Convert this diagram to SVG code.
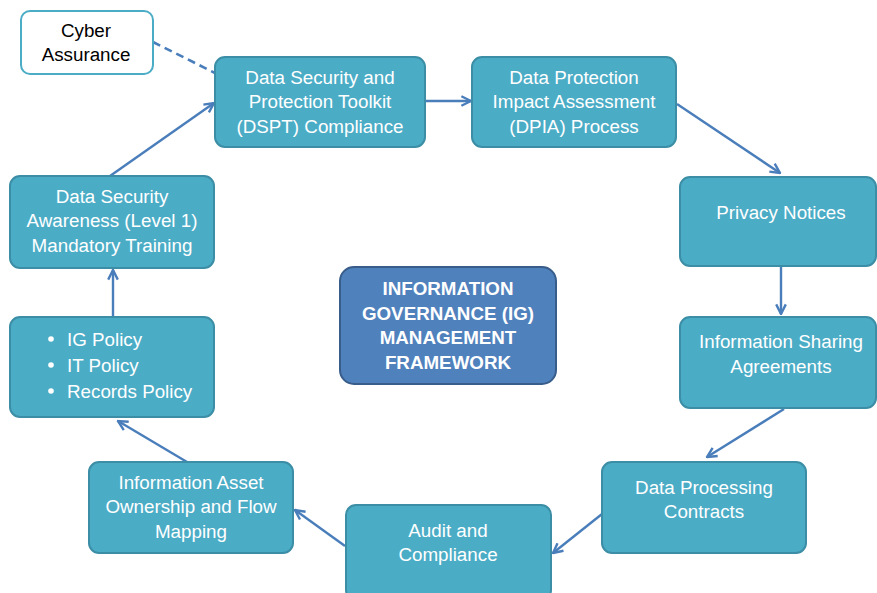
<svg xmlns="http://www.w3.org/2000/svg" width="877" height="593" viewBox="0 0 877 593">
  <style>
    .box { fill: #4bacc6; stroke: #3b8ea5; stroke-width: 2; }
    .cyber { fill: #ffffff; stroke: #4bacc6; stroke-width: 2; }
    .core { fill: #4f81bd; stroke: #385d8a; stroke-width: 2; }
    .t { font-family: "Liberation Sans", Arial, sans-serif; font-size: 18.8px; fill: #ffffff; text-anchor: middle; }
    .tb { font-family: "Liberation Sans", Arial, sans-serif; font-size: 18.8px; font-weight: bold; fill: #ffffff; text-anchor: middle; }
    .tk { font-family: "Liberation Sans", Arial, sans-serif; font-size: 18.8px; fill: #000000; text-anchor: middle; }
    .tl { font-family: "Liberation Sans", Arial, sans-serif; font-size: 18.8px; fill: #ffffff; }
    .link { stroke: #4a7ebb; stroke-width: 2.4; fill: none; marker-end: url(#arr); }
    .dash { stroke: #4a7ebb; stroke-width: 2.6; fill: none; stroke-dasharray: 8 5; }
  </style>
  <defs>
    <marker id="arr" viewBox="0 0 10 10" refX="9" refY="5" markerWidth="5" markerHeight="5" orient="auto">
      <path d="M1,1 L9,5 L1,9" fill="none" stroke="#4a7ebb" stroke-width="2"/>
    </marker>
  </defs>
  <rect width="877" height="593" fill="#ffffff"/>

  <g id="connectors">
    <line class="dash" x1="153" y1="42" x2="215" y2="73"/>
    <line class="link" x1="425" y1="101" x2="471" y2="101"/>
    <line class="link" x1="677" y1="104" x2="780" y2="173"/>
    <line class="link" x1="781" y1="267" x2="781" y2="314"/>
    <line class="link" x1="784" y1="409" x2="707" y2="457"/>
    <line class="link" x1="602" y1="514" x2="553" y2="553"/>
    <line class="link" x1="345" y1="546" x2="295" y2="510"/>
    <line class="link" x1="187" y1="462" x2="118" y2="421"/>
    <line class="link" x1="113" y1="317" x2="113" y2="270"/>
    <line class="link" x1="110" y1="176" x2="214" y2="103"/>
  </g>

  <g id="cyber-assurance">
    <rect class="cyber" x="21" y="11" width="132" height="63" rx="9"/>
    <text class="tk" x="86" y="37">Cyber</text>
    <text class="tk" x="86" y="61">Assurance</text>
  </g>

  <g id="dspt">
    <rect class="box" x="215" y="57" width="210" height="90" rx="10"/>
    <text class="t" x="320" y="84">Data Security and</text>
    <text class="t" x="320" y="108">Protection Toolkit</text>
    <text class="t" x="320" y="133">(DSPT) Compliance</text>
  </g>

  <g id="dpia">
    <rect class="box" x="472" y="57" width="204" height="90" rx="10"/>
    <text class="t" x="574" y="84">Data Protection</text>
    <text class="t" x="574" y="108">Impact Assessment</text>
    <text class="t" x="574" y="133">(DPIA) Process</text>
  </g>

  <g id="privacy-notices">
    <rect class="box" x="680" y="177" width="196" height="89" rx="10"/>
    <text class="t" x="781" y="219">Privacy Notices</text>
  </g>

  <g id="info-sharing">
    <rect class="box" x="680" y="317" width="196" height="91" rx="10"/>
    <text class="t" x="781" y="348">Information Sharing</text>
    <text class="t" x="781" y="373">Agreements</text>
  </g>

  <g id="data-processing">
    <rect class="box" x="602" y="462" width="204" height="91" rx="10"/>
    <text class="t" x="704" y="494">Data Processing</text>
    <text class="t" x="704" y="518">Contracts</text>
  </g>

  <g id="audit">
    <rect class="box" x="346" y="505" width="205" height="95" rx="10"/>
    <text class="t" x="448" y="537">Audit and</text>
    <text class="t" x="448" y="561">Compliance</text>
  </g>

  <g id="info-asset">
    <rect class="box" x="89" y="462" width="204" height="91" rx="10"/>
    <text class="t" x="191" y="489">Information Asset</text>
    <text class="t" x="191" y="513">Ownership and Flow</text>
    <text class="t" x="191" y="538">Mapping</text>
  </g>

  <g id="policies">
    <rect class="box" x="10" y="317" width="204" height="100" rx="10"/>
    <circle cx="51" cy="339" r="2.8" fill="#ffffff"/>
    <circle cx="51" cy="365" r="2.8" fill="#ffffff"/>
    <circle cx="51" cy="391" r="2.8" fill="#ffffff"/>
    <text class="tl" x="67" y="346">IG Policy</text>
    <text class="tl" x="67" y="372">IT Policy</text>
    <text class="tl" x="67" y="398">Records Policy</text>
  </g>

  <g id="awareness-training">
    <rect class="box" x="10" y="176" width="204" height="92" rx="10"/>
    <text class="t" x="112" y="203">Data Security</text>
    <text class="t" x="112" y="227">Awareness (Level 1)</text>
    <text class="t" x="112" y="252">Mandatory Training</text>
  </g>

  <g id="ig-framework">
    <rect class="core" x="340" y="267" width="216" height="117" rx="14"/>
    <text class="tb" x="448" y="295">INFORMATION</text>
    <text class="tb" x="448" y="320">GOVERNANCE (IG)</text>
    <text class="tb" x="448" y="344">MANAGEMENT</text>
    <text class="tb" x="448" y="369">FRAMEWORK</text>
  </g>
</svg>
